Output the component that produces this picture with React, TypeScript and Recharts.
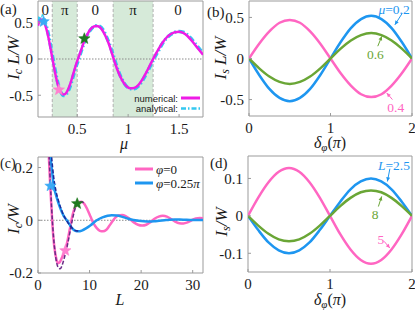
import React from 'react';
import {
  ComposedChart,
  Line,
  XAxis,
  YAxis,
  ReferenceArea,
  ReferenceLine,
  ReferenceDot,
} from 'recharts';

const FONT = "'Liberation Serif', 'Times New Roman', serif";
const SANS = "'Liberation Sans', Arial, sans-serif";

const BLUE = '#1e96f0';
const PINK = '#ff66c2';
const GREEN = '#6aa636';
const MAGENTA = '#ee1be6';
const CYAN = '#34c8f0';
const PURPLE_D = '#6b2a86';
const NAVY_D = '#1c2a9a';
const STAR_BLUE = '#3aaaf5';
const STAR_PINK = '#ff80d0';
const STAR_GREEN = '#1f7a1f';
const FRAME = '#9b9b9b';
const SHADE = '#d6ead9';

// ---------- (a) I_c L/W vs mu ----------
const A_MU = [0.115, 0.13, 0.145, 0.16, 0.18, 0.2, 0.22, 0.24, 0.26, 0.28, 0.3, 0.32, 0.34, 0.36, 0.38, 0.4, 0.43, 0.46, 0.49, 0.51, 0.54, 0.57, 0.6, 0.63, 0.66, 0.69, 0.72, 0.75, 0.78, 0.81, 0.84, 0.87, 0.9, 0.94, 0.98, 1.02, 1.06, 1.1, 1.14, 1.18, 1.22, 1.26, 1.3, 1.34, 1.38, 1.42, 1.46, 1.5, 1.54, 1.58, 1.62, 1.66, 1.7, 1.735];
const A_NUMERICAL = [0.46, 0.52, 0.545, 0.54, 0.49, 0.4, 0.28, 0.13, -0.02, -0.17, -0.3, -0.4, -0.46, -0.49, -0.485, -0.45, -0.35, -0.21, -0.07, 0.01, 0.13, 0.25, 0.34, 0.41, 0.445, 0.455, 0.44, 0.39, 0.31, 0.21, 0.08, -0.05, -0.17, -0.29, -0.37, -0.405, -0.4, -0.36, -0.28, -0.18, -0.07, 0.04, 0.14, 0.23, 0.3, 0.345, 0.37, 0.375, 0.36, 0.32, 0.26, 0.19, 0.12, 0.06];
const A_ANALYTICAL = [0.5, 0.57, 0.6, 0.59, 0.53, 0.44, 0.32, 0.17, 0.02, -0.13, -0.27, -0.38, -0.46, -0.5, -0.505, -0.47, -0.38, -0.24, -0.1, -0.02, 0.11, 0.23, 0.33, 0.4, 0.445, 0.46, 0.45, 0.41, 0.33, 0.23, 0.11, -0.02, -0.15, -0.28, -0.37, -0.41, -0.41, -0.375, -0.3, -0.2, -0.09, 0.02, 0.12, 0.22, 0.29, 0.34, 0.37, 0.38, 0.37, 0.335, 0.28, 0.21, 0.14, 0.08];
const A_X_DOMAIN = [0.115, 1.735];
const A_Y_DOMAIN = [-0.8, 0.8];
const A_X_TICKS = [0.5, 1, 1.5];
const A_Y_TICKS = [-0.5, 0, 0.5];
const A_REGION_EDGES = [0.115, 0.255, 0.5, 0.853, 1.245, 1.735];
const A_REGION_PHASES = ['0', 'π', '0', 'π', '0'];
const A_REGION_SHADED = [false, true, false, true, false];
const A_STAR_X = [0.17, 0.32, 0.57];
const A_STAR_Y = [0.515, -0.425, 0.28];
const A_STAR_COLORS = [STAR_BLUE, STAR_PINK, STAR_GREEN];

// ---------- (b) I_s L/W vs delta_phi ----------
const B_PHASE = [0, 0.125, 0.25, 0.375, 0.5, 0.625, 0.75, 0.875, 1, 1.125, 1.25, 1.375, 1.5, 1.625, 1.75, 1.875, 2];
const B_MU02 = [0, -0.2, -0.37, -0.48, -0.52, -0.48, -0.37, -0.2, 0, 0.2, 0.37, 0.48, 0.52, 0.48, 0.37, 0.2, 0];
const B_MU04 = [0, 0.18, 0.33, 0.435, 0.47, 0.435, 0.33, 0.18, 0, -0.18, -0.33, -0.435, -0.47, -0.435, -0.33, -0.18, 0];
const B_MU06 = [0, -0.12, -0.22, -0.285, -0.31, -0.285, -0.22, -0.12, 0, 0.12, 0.22, 0.285, 0.31, 0.285, 0.22, 0.12, 0];
const B_NOTE_TEXT = ['μ=0.2', '0.6', '0.4'];
const B_NOTE_X = [1.78, 1.55, 1.8];
const B_NOTE_Y = [0.6, 0.05, -0.6];
const B_NOTE_COLORS = [BLUE, GREEN, PINK];
const B_ARROWS = [
  [1.88, 0.55, 1.79, 0.41],
  [1.58, 0.15, 1.63, 0.27],
  [1.76, -0.5, 1.69, -0.42],
];

// ---------- (c) I_c/W vs L ----------
const C_L_PHI0 = [1.9, 2.1, 2.3, 2.5, 2.75, 3.0, 3.3, 3.6, 3.9, 4.2, 4.5, 4.9, 5.3, 5.7, 6.2, 6.7, 7.2, 7.6, 8.0, 8.5, 9.0, 9.6, 10.2, 10.8, 11.4, 12.0, 12.6, 13.2, 13.8, 14.4, 15.0, 15.6, 16.3, 17.0, 17.8, 18.6, 19.4, 20.2, 21.0, 21.8, 22.6, 23.4, 24.2, 25.0, 25.8, 26.6, 27.4, 28.2, 29.0, 29.8, 30.6, 31.4, 32.0];
const C_PHI0 = [0.33, 0.245, 0.16, 0.085, 0.0, -0.07, -0.12, -0.15, -0.163, -0.16, -0.148, -0.13, -0.112, -0.08, -0.03, 0.02, 0.05, 0.063, 0.069, 0.07, 0.062, 0.04, 0.013, -0.013, -0.03, -0.04, -0.042, -0.037, -0.022, -0.005, 0.01, 0.018, 0.02, 0.016, 0.005, -0.008, -0.017, -0.02, -0.017, -0.007, 0.006, 0.014, 0.017, 0.014, 0.005, -0.005, -0.011, -0.012, -0.008, 0.0, 0.007, 0.009, 0.008];
const C_L_PHI025 = [2.2, 2.4, 2.7, 3.06, 3.5, 4.0, 4.5, 5.0, 5.6, 6.0, 6.6, 7.25, 7.8, 8.5, 9.3, 10.2, 11.4, 12.5, 13.5, 14.3, 15.3, 16.5, 17.5, 18.5, 19.5, 20.5, 21.5, 22.5, 23.5, 24.5, 25.5, 26.5, 27.5, 28.5, 29.5, 30.5, 31.5, 32];
const C_PHI025 = [0.33, 0.25, 0.19, 0.13, 0.095, 0.063, 0.037, 0.016, 0.0, -0.012, -0.03, -0.04, -0.042, -0.039, -0.031, -0.019, 0.0, 0.011, 0.017, 0.019, 0.018, 0.012, 0.006, 0.001, -0.002, -0.004, -0.005, -0.004, -0.002, 0.0, 0.002, 0.003, 0.003, 0.002, 0.001, 0.001, 0.001, 0.001];
const C_L_PHI0_AN = [1.9, 2.1, 2.3, 2.5, 2.75, 3.0, 3.3, 3.6, 3.9, 4.3, 4.6, 5.0, 5.4, 5.8, 6.2, 6.7, 7.2, 7.6, 8.0, 8.5, 9.0];
const C_PHI0_AN = [0.36, 0.27, 0.18, 0.1, 0.01, -0.06, -0.12, -0.16, -0.178, -0.184, -0.175, -0.15, -0.12, -0.085, -0.045, 0.005, 0.045, 0.062, 0.069, 0.07, 0.062];
const C_L_PHI025_AN = [2.3, 2.6, 3.0, 3.5, 4.0, 4.5, 5.0, 5.6, 6.2, 6.8, 7.4, 8.0];
const C_PHI025_AN = [0.33, 0.25, 0.17, 0.11, 0.072, 0.042, 0.018, -0.003, -0.02, -0.033, -0.04, -0.041];
const C_X_DOMAIN = [0, 32];
const C_Y_DOMAIN = [-0.2, 0.24];
const C_X_TICKS = [0, 10, 20, 30];
const C_Y_TICKS = [-0.2, 0, 0.2];
const C_STAR_X = [2.42, 5.3, 7.6];
const C_STAR_Y = [0.13, -0.115, 0.063];
const C_STAR_COLORS = [STAR_BLUE, STAR_PINK, STAR_GREEN];

// ---------- (d) I_s/W vs delta_phi ----------
const D_L25 = [0, -0.038, -0.071, -0.092, -0.1, -0.092, -0.071, -0.038, 0, 0.038, 0.071, 0.092, 0.1, 0.092, 0.071, 0.038, 0];
const D_L5 = [0, 0.049, 0.09, 0.118, 0.128, 0.118, 0.09, 0.049, 0, -0.049, -0.09, -0.118, -0.128, -0.118, -0.09, -0.049, 0];
const D_L8 = [0, -0.026, -0.048, -0.063, -0.068, -0.063, -0.048, -0.026, 0, 0.026, 0.048, 0.063, 0.068, 0.063, 0.048, 0.026, 0];
const D_NOTE_TEXT = ['L=2.5', '8', '5'];
const D_NOTE_X = [1.78, 1.55, 1.62];
const D_NOTE_Y = [0.136, 0.005, -0.062];
const D_NOTE_COLORS = [BLUE, GREEN, PINK];
const D_ARROWS = [
  [1.73, 0.126, 1.7, 0.092],
  [1.59, 0.025, 1.63, 0.052],
  [1.66, -0.068, 1.73, -0.086],
];
const PHASE_TICKS = [0, 1, 2];

const zip = (xs: number[], ys: number[]) => xs.map((x, i) => ({ x, y: ys[i] }));

const tickStyle = { fontSize: 15, fill: '#1a1a1a', fontFamily: FONT };

const starDot = (colors: string[]) => (props: any) => {
  const cx = Number(props.cx), cy = Number(props.cy);
  const key = 'star' + props.index;
  if (!isFinite(cx) || !isFinite(cy)) return <g key={key} />;
  const color = colors[props.index] || colors[0];
  const pts: string[] = [];
  for (let i = 0; i < 10; i++) {
    const r = i % 2 === 0 ? 6 : 2.6;
    const a = -Math.PI / 2 + (i * Math.PI) / 5;
    pts.push(`${(cx + r * Math.cos(a)).toFixed(2)},${(cy + r * Math.sin(a)).toFixed(2)}`);
  }
  return <polygon key={key} points={pts.join(' ')} fill={color} stroke={color} strokeWidth={0.5} />;
};

const arrowShape = (color: string) => (p: any) => {
  const x1 = Number(p.x1), y1 = Number(p.y1), x2 = Number(p.x2), y2 = Number(p.y2);
  const ang = Math.atan2(y2 - y1, x2 - x1);
  const h = 4.5;
  const a1 = ang + Math.PI - 0.45;
  const a2 = ang + Math.PI + 0.45;
  return (
    <g>
      <line x1={x1} y1={y1} x2={x2} y2={y2} stroke={color} strokeWidth={1} />
      <polygon
        points={`${x2},${y2} ${x2 + h * Math.cos(a1)},${y2 + h * Math.sin(a1)} ${x2 + h * Math.cos(a2)},${y2 + h * Math.sin(a2)}`}
        fill={color}
      />
    </g>
  );
};

const noteShape = (text: string, color: string) => (p: any) => {
  const m = text.match(/^(\D)(=.*)$/);
  return (
    <text x={p.cx} y={p.cy} textAnchor="middle" dominantBaseline="central" fontFamily={FONT} fontSize={13.5} fill={color}>
      {m ? (
        <>
          <tspan fontStyle="italic">{m[1]}</tspan>
          <tspan>{m[2]}</tspan>
        </>
      ) : (
        text
      )}
    </text>
  );
};

const Frame = ({ xd, yd }: { xd: number[]; yd: number[] }) => (
  <ReferenceArea x1={xd[0]} x2={xd[1]} y1={yd[0]} y2={yd[1]} fill="none" stroke={FRAME} strokeWidth={1} ifOverflow="visible" />
);

function PanelA() {
  const num = zip(A_MU, A_NUMERICAL);
  const ana = zip(A_MU, A_ANALYTICAL);
  return (
    <ComposedChart width={210} height={155} margin={{ top: 1, right: 7, bottom: 0, left: 0 }}>
      <XAxis dataKey="x" type="number" domain={A_X_DOMAIN} allowDataOverflow ticks={A_X_TICKS} interval={0}
        axisLine={false} tickLine={{ stroke: FRAME }} tickSize={-3} tickMargin={9} tick={tickStyle} height={38} />
      <YAxis dataKey="y" type="number" domain={A_Y_DOMAIN} allowDataOverflow ticks={A_Y_TICKS} interval={0}
        axisLine={false} tickLine={{ stroke: FRAME }} tickSize={-3} tickMargin={8} tick={tickStyle} width={38} />
      {A_REGION_PHASES.map((ph, i) => (
        <ReferenceArea key={'r' + i} x1={A_REGION_EDGES[i]} x2={A_REGION_EDGES[i + 1]} y1={A_Y_DOMAIN[0]} y2={A_Y_DOMAIN[1]}
          fill={A_REGION_SHADED[i] ? SHADE : 'none'} fillOpacity={1} stroke="none"
          label={{ value: ph, position: 'insideTop', offset: 3, fill: '#1a1a1a', fontSize: 15, fontFamily: FONT }} />
      ))}
      {A_REGION_EDGES.slice(1, -1).map((e, i) => (
        <ReferenceLine key={'e' + i} x={e} stroke="#b0b0b0" strokeDasharray="3 2" strokeWidth={1} />
      ))}
      <ReferenceLine y={0} stroke="#8a8a8a" strokeDasharray="1.5 1.5" strokeWidth={1} />
      <Line data={ana} dataKey="y" type="monotone" stroke={CYAN} strokeWidth={3.5} strokeDasharray="6 2.5 1.5 2.5" dot={false} isAnimationActive={false} />
      <Line data={num} dataKey="y" type="monotone" stroke={MAGENTA} strokeWidth={2.5} dot={false} isAnimationActive={false} />
      <Line data={zip(A_STAR_X, A_STAR_Y)} dataKey="y" stroke="none" dot={starDot(A_STAR_COLORS)} activeDot={false} isAnimationActive={false} />
      <Frame xd={A_X_DOMAIN} yd={A_Y_DOMAIN} />
    </ComposedChart>
  );
}

function PhasePanel(props: {
  series: number[][]; colors: string[]; yDomain: number[]; yTicks: number[];
  notesText: string[]; notesX: number[]; notesY: number[]; notesColors: string[]; arrows: number[][];
  top: number; yWidth: number; xHeight: number;
}) {
  const { series, colors, yDomain, yTicks, notesText, notesX, notesY, notesColors, arrows, top, yWidth, xHeight } = props;
  return (
    <ComposedChart width={210} height={155} margin={{ top, right: 3, bottom: 0, left: 0 }}>
      <XAxis dataKey="x" type="number" domain={[0, 2]} allowDataOverflow ticks={PHASE_TICKS} interval={0}
        axisLine={false} tickLine={{ stroke: FRAME }} tickSize={-3} tickMargin={9} tick={tickStyle} height={xHeight} />
      <YAxis dataKey="y" type="number" domain={yDomain} allowDataOverflow ticks={yTicks} interval={0}
        axisLine={false} tickLine={{ stroke: FRAME }} tickSize={-3} tickMargin={8} tick={tickStyle} width={yWidth} />
      {series.map((s, i) => (
        <Line key={'l' + i} data={zip(B_PHASE, s)} dataKey="y" type="monotone" stroke={colors[i]} strokeWidth={2.5} dot={false} isAnimationActive={false} />
      ))}
      {arrows.map((a, i) => (
        <ReferenceLine key={'a' + i} segment={[{ x: a[0], y: a[1] }, { x: a[2], y: a[3] }]} ifOverflow="visible" shape={arrowShape(notesColors[i])} />
      ))}
      {notesText.map((t, i) => (
        <ReferenceDot key={'n' + i} x={notesX[i]} y={notesY[i]} r={1} ifOverflow="visible" shape={noteShape(t, notesColors[i])} />
      ))}
      <Frame xd={[0, 2]} yd={yDomain} />
    </ComposedChart>
  );
}

function PanelC() {
  return (
    <ComposedChart width={210} height={155} margin={{ top: 2, right: 7, bottom: 0, left: 0 }}>
      <XAxis dataKey="x" type="number" domain={C_X_DOMAIN} allowDataOverflow ticks={C_X_TICKS} interval={0}
        axisLine={false} tickLine={{ stroke: FRAME }} tickSize={-3} tickMargin={9} tick={tickStyle} height={37} />
      <YAxis dataKey="y" type="number" domain={C_Y_DOMAIN} allowDataOverflow ticks={C_Y_TICKS} interval={0}
        axisLine={false} tickLine={{ stroke: FRAME }} tickSize={-3} tickMargin={8} tick={tickStyle} width={38} />
      <ReferenceLine y={0} stroke="#8a8a8a" strokeDasharray="1.5 1.5" strokeWidth={1} />
      <Line data={zip(C_L_PHI0, C_PHI0)} dataKey="y" type="monotone" stroke={PINK} strokeWidth={2.5} dot={false} isAnimationActive={false} />
      <Line data={zip(C_L_PHI025, C_PHI025)} dataKey="y" type="monotone" stroke={BLUE} strokeWidth={2.5} dot={false} isAnimationActive={false} />
      <Line data={zip(C_L_PHI0_AN, C_PHI0_AN)} dataKey="y" type="monotone" stroke={PURPLE_D} strokeWidth={1.5} strokeDasharray="4 2" dot={false} isAnimationActive={false} />
      <Line data={zip(C_L_PHI025_AN, C_PHI025_AN)} dataKey="y" type="monotone" stroke={NAVY_D} strokeWidth={1.5} strokeDasharray="4 2" dot={false} isAnimationActive={false} />
      <Line data={zip(C_STAR_X, C_STAR_Y)} dataKey="y" stroke="none" dot={starDot(C_STAR_COLORS)} activeDot={false} isAnimationActive={false} />
      <Frame xd={C_X_DOMAIN} yd={C_Y_DOMAIN} />
    </ComposedChart>
  );
}

const It = ({ children }: { children: React.ReactNode }) => <tspan fontStyle="italic">{children}</tspan>;

function Overlay() {
  const t = { fontFamily: FONT, fill: '#1a1a1a' };
  return (
    <svg width={415} height={310} style={{ position: 'absolute', left: 0, top: 0, pointerEvents: 'none' }}>
      {/* panel letters */}
      <text x={0} y={14} fontSize={15} {...t}>(a)</text>
      <text x={207} y={17} fontSize={15} {...t}>(b)</text>
      <text x={0} y={168} fontSize={14} {...t}>(c)</text>
      <text x={210} y={168} fontSize={15} {...t}>(d)</text>

      {/* y titles */}
      <text transform="translate(19,58) rotate(-90)" textAnchor="middle" fontSize={17} {...t}>
        <It>I</It><tspan fontStyle="italic" fontSize={12} dy={3}>c</tspan><tspan dy={-3} fontStyle="italic"> L/W</tspan>
      </text>
      <text transform="translate(226,58) rotate(-90)" textAnchor="middle" fontSize={17} {...t}>
        <It>I</It><tspan fontStyle="italic" fontSize={12} dy={3}>s</tspan><tspan dy={-3} fontStyle="italic"> L/W</tspan>
      </text>
      <text transform="translate(19,219) rotate(-90)" textAnchor="middle" fontSize={17} {...t}>
        <It>I</It><tspan fontStyle="italic" fontSize={12} dy={3}>c</tspan><tspan dy={-3} fontStyle="italic">/W</tspan>
      </text>
      <text transform="translate(227,222) rotate(-90)" textAnchor="middle" fontSize={17} {...t}>
        <It>I</It><tspan fontStyle="italic" fontSize={12} dy={3}>s</tspan><tspan dy={-3} fontStyle="italic">/W</tspan>
      </text>

      {/* x titles */}
      <text x={124} y={149} textAnchor="middle" fontSize={16} {...t}><It>μ</It></text>
      <text x={330} y={148} textAnchor="middle" fontSize={16} {...t}>
        <It>δ</It><tspan fontStyle="italic" fontSize={11} dy={3}>φ</tspan><tspan dy={-3}>(</tspan><It>π</It><tspan>)</tspan>
      </text>
      <text x={120} y={305} textAnchor="middle" fontSize={16} {...t}><It>L</It></text>
      <text x={330} y={305} textAnchor="middle" fontSize={16} {...t}>
        <It>δ</It><tspan fontStyle="italic" fontSize={11} dy={3}>φ</tspan><tspan dy={-3}>(</tspan><It>π</It><tspan>)</tspan>
      </text>

      {/* legend (a) */}
      <text x={178} y={101.5} textAnchor="end" fontSize={9.5} fontFamily={SANS} fill="#1a1a1a">numerical:</text>
      <line x1={181} y1={98} x2={200} y2={98} stroke={MAGENTA} strokeWidth={3} />
      <text x={178} y={111.5} textAnchor="end" fontSize={9.5} fontFamily={SANS} fill="#1a1a1a">analytical:</text>
      <line x1={181} y1={108.5} x2={200} y2={108.5} stroke={CYAN} strokeWidth={2.5} strokeDasharray="5 2 1.5 2" />

      {/* legend (c) */}
      <line x1={135} y1={169} x2={153} y2={169} stroke={PINK} strokeWidth={3} />
      <text x={156} y={173.5} fontSize={13} {...t}><It>φ</It><tspan>=0</tspan></text>
      <line x1={135} y1={183} x2={153} y2={183} stroke={BLUE} strokeWidth={3} />
      <text x={156} y={187.5} fontSize={13} {...t}><It>φ</It><tspan>=0.25</tspan><It>π</It></text>
    </svg>
  );
}

export default function App() {
  return (
    <div style={{ position: 'absolute', left: 0, top: 0, width: 415, height: 310, background: '#fff', fontFamily: FONT, overflow: 'hidden' }}>
      <div style={{ position: 'absolute', left: 0, top: 0 }}>
        <PanelA />
      </div>
      <div style={{ position: 'absolute', left: 205, top: 0 }}>
        <PhasePanel series={[B_MU02, B_MU04, B_MU06]} colors={[BLUE, PINK, GREEN]} yDomain={[-0.7, 0.7]} yTicks={[-0.5, 0, 0.5]}
          notesText={B_NOTE_TEXT} notesX={B_NOTE_X} notesY={B_NOTE_Y} notesColors={B_NOTE_COLORS} arrows={B_ARROWS}
          top={1} yWidth={44} xHeight={39} />
      </div>
      <div style={{ position: 'absolute', left: 0, top: 155 }}>
        <PanelC />
      </div>
      <div style={{ position: 'absolute', left: 205, top: 155 }}>
        <PhasePanel series={[D_L25, D_L5, D_L8]} colors={[BLUE, PINK, GREEN]} yDomain={[-0.15, 0.16]} yTicks={[-0.1, 0, 0.1]}
          notesText={D_NOTE_TEXT} notesX={D_NOTE_X} notesY={D_NOTE_Y} notesColors={D_NOTE_COLORS} arrows={D_ARROWS}
          top={1} yWidth={43} xHeight={38} />
      </div>
      <Overlay />
    </div>
  );
}
